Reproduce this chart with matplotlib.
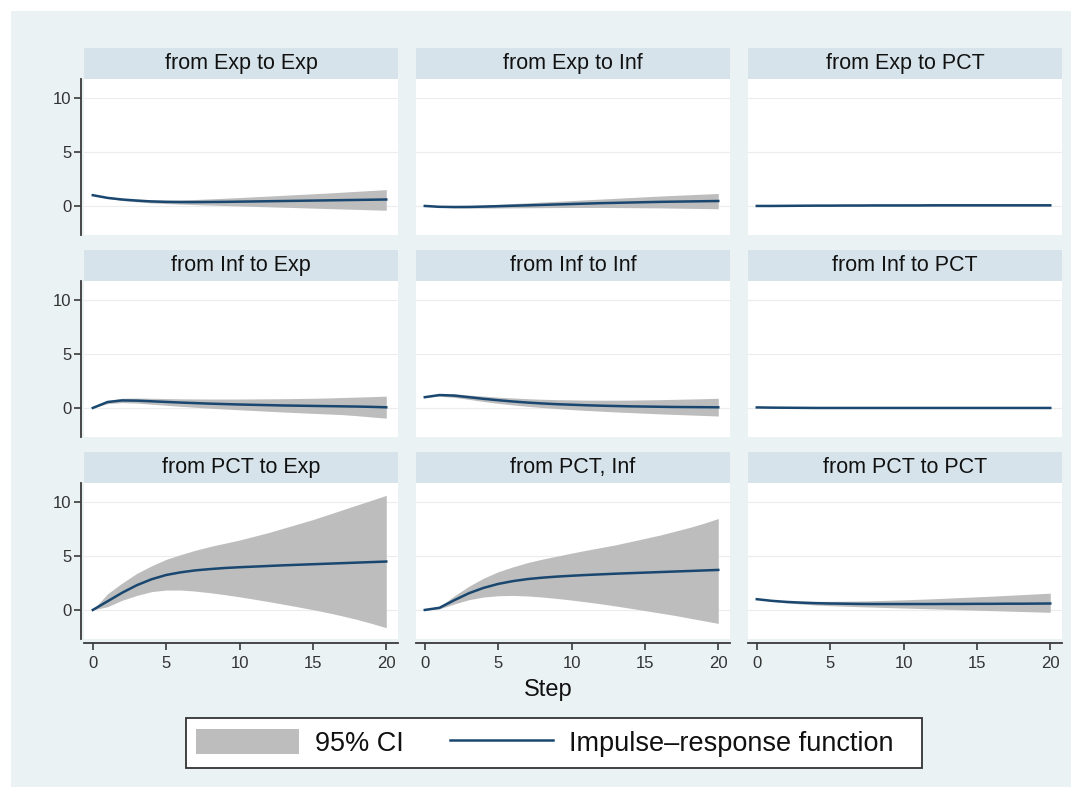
import numpy as np
import matplotlib.pyplot as plt
from matplotlib.patches import Rectangle, Patch
from matplotlib.lines import Line2D

###
# Data
###

steps = np.arange(21)

exp_exp_irf = [1.0, 0.75, 0.6, 0.5, 0.42, 0.38, 0.36, 0.36, 0.37, 0.38, 0.40, 0.42, 0.44, 0.46, 0.48, 0.50, 0.52, 0.54, 0.56, 0.58, 0.60]
exp_exp_lo = [1.0, 0.7, 0.5, 0.38, 0.28, 0.22, 0.17, 0.12, 0.08, 0.04, 0.0, -0.04, -0.08, -0.12, -0.16, -0.2, -0.24, -0.28, -0.32, -0.36, -0.4]
exp_exp_hi = [1.0, 0.8, 0.7, 0.62, 0.56, 0.54, 0.56, 0.6, 0.66, 0.72, 0.78, 0.85, 0.92, 0.99, 1.06, 1.13, 1.2, 1.28, 1.36, 1.44, 1.52]

exp_inf_irf = [0, -0.08, -0.1, -0.09, -0.06, -0.02, 0.02, 0.06, 0.1, 0.14, 0.18, 0.22, 0.26, 0.29, 0.32, 0.35, 0.38, 0.4, 0.42, 0.44, 0.46]
exp_inf_lo = [0, -0.12, -0.18, -0.2, -0.2, -0.19, -0.18, -0.17, -0.16, -0.15, -0.14, -0.14, -0.14, -0.15, -0.16, -0.17, -0.18, -0.2, -0.22, -0.24, -0.26]
exp_inf_hi = [0, -0.04, -0.02, 0.02, 0.08, 0.15, 0.22, 0.29, 0.36, 0.43, 0.5, 0.57, 0.64, 0.71, 0.78, 0.85, 0.92, 0.98, 1.04, 1.1, 1.16]

exp_pct_irf = [0, 0.0, 0.01, 0.02, 0.03, 0.03, 0.04, 0.04, 0.05, 0.05, 0.05, 0.05, 0.06, 0.06, 0.06, 0.06, 0.06, 0.06, 0.06, 0.06, 0.06]
exp_pct_lo = [0, -0.02, -0.03, -0.03, -0.03, -0.03, -0.03, -0.03, -0.03, -0.03, -0.03, -0.03, -0.03, -0.03, -0.03, -0.03, -0.03, -0.03, -0.03, -0.03, -0.03]
exp_pct_hi = [0, 0.02, 0.05, 0.07, 0.09, 0.1, 0.11, 0.12, 0.13, 0.13, 0.14, 0.14, 0.15, 0.15, 0.15, 0.15, 0.15, 0.15, 0.15, 0.15, 0.15]

inf_exp_irf = [0, 0.55, 0.7, 0.68, 0.62, 0.56, 0.5, 0.45, 0.4, 0.36, 0.32, 0.29, 0.26, 0.23, 0.21, 0.19, 0.17, 0.15, 0.13, 0.1, 0.06]
inf_exp_lo = [0, 0.4, 0.5, 0.45, 0.35, 0.25, 0.15, 0.06, -0.02, -0.1, -0.17, -0.24, -0.31, -0.38, -0.44, -0.5, -0.56, -0.62, -0.72, -0.84, -0.95]
inf_exp_hi = [0, 0.7, 0.9, 0.92, 0.9, 0.87, 0.85, 0.84, 0.83, 0.83, 0.83, 0.84, 0.85, 0.86, 0.88, 0.9, 0.93, 0.97, 1.01, 1.05, 1.1]

inf_inf_irf = [1.0, 1.2, 1.15, 1.0, 0.85, 0.72, 0.6, 0.5, 0.42, 0.35, 0.3, 0.25, 0.21, 0.18, 0.15, 0.13, 0.11, 0.09, 0.08, 0.07, 0.06]
inf_inf_lo = [1.0, 1.1, 0.98, 0.8, 0.6, 0.43, 0.28, 0.15, 0.04, -0.06, -0.15, -0.23, -0.3, -0.37, -0.43, -0.49, -0.55, -0.6, -0.65, -0.7, -0.75]
inf_inf_hi = [1.0, 1.3, 1.32, 1.2, 1.1, 1.0, 0.93, 0.86, 0.81, 0.77, 0.75, 0.73, 0.72, 0.72, 0.73, 0.75, 0.77, 0.8, 0.83, 0.86, 0.9]

inf_pct_irf = [0.05, 0.03, 0.02, 0.01, 0.0, 0.0, 0.0, 0.0, 0.0, 0.0, 0.0, 0.0, 0.0, 0.0, 0.0, 0.0, 0.0, 0.0, 0.0, 0.0, 0.0]
inf_pct_lo = [0.05, 0.0, -0.02, -0.03, -0.04, -0.04, -0.04, -0.04, -0.04, -0.04, -0.04, -0.04, -0.04, -0.04, -0.04, -0.04, -0.04, -0.04, -0.04, -0.04, -0.04]
inf_pct_hi = [0.05, 0.06, 0.06, 0.05, 0.04, 0.04, 0.04, 0.04, 0.04, 0.04, 0.04, 0.04, 0.04, 0.04, 0.04, 0.04, 0.04, 0.04, 0.04, 0.04, 0.04]

pct_exp_irf = [0, 0.8, 1.6, 2.3, 2.85, 3.25, 3.5, 3.68, 3.8, 3.9, 3.97, 4.03, 4.09, 4.15, 4.2, 4.25, 4.3, 4.35, 4.4, 4.45, 4.5]
pct_exp_lo = [0, 0.3, 0.9, 1.35, 1.7, 1.85, 1.85, 1.75, 1.6, 1.42, 1.22, 1.0, 0.77, 0.53, 0.28, 0.03, -0.25, -0.55, -0.88, -1.25, -1.65]
pct_exp_hi = [0, 1.5, 2.5, 3.4, 4.1, 4.7, 5.15, 5.55, 5.9, 6.2, 6.5, 6.85, 7.2, 7.6, 8.0, 8.4, 8.85, 9.3, 9.75, 10.2, 10.65]

pct_inf_irf = [0, 0.2, 0.9, 1.55, 2.05, 2.42, 2.68, 2.87, 3.0, 3.1, 3.18, 3.25, 3.31, 3.37, 3.42, 3.47, 3.52, 3.57, 3.62, 3.67, 3.72]
pct_inf_lo = [0, 0.1, 0.55, 0.95, 1.2, 1.32, 1.35, 1.3, 1.2, 1.07, 0.92, 0.75, 0.57, 0.37, 0.16, -0.06, -0.28, -0.5, -0.75, -1.0, -1.25]
pct_inf_hi = [0, 0.3, 1.3, 2.2, 2.95, 3.55, 4.0, 4.4, 4.72, 5.0, 5.28, 5.55, 5.8, 6.05, 6.35, 6.65, 6.95, 7.3, 7.65, 8.05, 8.5]

pct_pct_irf = [1.0, 0.85, 0.75, 0.68, 0.63, 0.6, 0.58, 0.56, 0.55, 0.55, 0.55, 0.55, 0.55, 0.56, 0.56, 0.57, 0.57, 0.58, 0.58, 0.59, 0.6]
pct_pct_lo = [1.0, 0.8, 0.65, 0.55, 0.46, 0.4, 0.35, 0.3, 0.26, 0.22, 0.18, 0.14, 0.1, 0.06, 0.02, -0.02, -0.06, -0.1, -0.14, -0.18, -0.22]
pct_pct_hi = [1.0, 0.9, 0.85, 0.82, 0.8, 0.8, 0.81, 0.83, 0.86, 0.9, 0.94, 0.99, 1.04, 1.1, 1.16, 1.22, 1.28, 1.35, 1.42, 1.49, 1.56]

titles = [
    "from Exp to Exp", "from Exp to Inf", "from Exp to PCT",
    "from Inf to Exp", "from Inf to Inf", "from Inf to PCT",
    "from PCT to Exp", "from PCT, Inf", "from PCT to PCT",
]
panels = [
    (exp_exp_irf, exp_exp_lo, exp_exp_hi), (exp_inf_irf, exp_inf_lo, exp_inf_hi), (exp_pct_irf, exp_pct_lo, exp_pct_hi),
    (inf_exp_irf, inf_exp_lo, inf_exp_hi), (inf_inf_irf, inf_inf_lo, inf_inf_hi), (inf_pct_irf, inf_pct_lo, inf_pct_hi),
    (pct_exp_irf, pct_exp_lo, pct_exp_hi), (pct_inf_irf, pct_inf_lo, pct_inf_hi), (pct_pct_irf, pct_pct_lo, pct_pct_hi),
]
y_ticks = [0, 5, 10]
x_ticks = [0, 5, 10, 15, 20]

###
# Style
###

plt.rcParams['font.family'] = ['Liberation Sans', 'DejaVu Sans']

W, H = 1084, 798
bg_color = "#eaf2f3"
strip_color = "#d6e3ea"
ci_color = "#bdbdbd"
line_color = "#1a476f"
axis_color = "#3a3a3a"
text_color = "#111111"

def fig_rect(x0, y0, x1, y1):
    # pixel box (top-left origin) -> figure fraction rect
    return [x0 / W, 1 - y1 / H, (x1 - x0) / W, (y1 - y0) / H]

fig = plt.figure(figsize=(W / 100, H / 100), dpi=100, facecolor="white")

# light blue-grey graph region behind everything
bg = fig.add_axes(fig_rect(11, 11, 1071, 787), zorder=-10)
bg.set_facecolor(bg_color)
bg.set_xticks([])
bg.set_yticks([])
for s in bg.spines.values():
    s.set_visible(False)

col_x = [84, 416, 748]
col_w = 314
row_y = [48, 250, 452]
strip_h = 31
plot_h = 156

###
# Panels
###

for k, (title, (irf, lo, hi)) in enumerate(zip(titles, panels)):
    r, c = divmod(k, 3)
    x0 = col_x[c]
    y0 = row_y[r]

    sax = fig.add_axes(fig_rect(x0, y0, x0 + col_w, y0 + strip_h))
    sax.set_facecolor(strip_color)
    sax.set_xticks([])
    sax.set_yticks([])
    for s in sax.spines.values():
        s.set_visible(False)
    sax.text(0.5, 0.5, title, ha="center", va="center", fontsize=15.5, color=text_color,
             transform=sax.transAxes)

    ax = fig.add_axes(fig_rect(x0, y0 + strip_h, x0 + col_w, y0 + strip_h + plot_h))
    ax.set_facecolor("white")
    ax.set_xlim(-0.6, 20.8)
    ax.set_ylim(-2.7, 11.8)
    for yv in y_ticks:
        ax.axhline(yv, color="#ececec", lw=0.8, zorder=0)

    ax.fill_between(steps, lo, hi, color=ci_color, lw=0, zorder=1)
    ax.plot(steps, irf, color=line_color, lw=1.8, zorder=2)

    for s in ax.spines.values():
        s.set_visible(False)

    if c == 0:
        ax.spines["left"].set_visible(True)
        ax.spines["left"].set_position(("outward", 2))
        ax.spines["left"].set_color(axis_color)
        ax.spines["left"].set_linewidth(1.3)
        ax.set_yticks(y_ticks)
        ax.tick_params(axis="y", length=5, width=1.2, color=axis_color,
                       labelsize=12, labelcolor="#333333", pad=2)
    else:
        ax.set_yticks([])

    if r == 2:
        ax.spines["bottom"].set_visible(True)
        ax.spines["bottom"].set_position(("outward", 3))
        ax.spines["bottom"].set_color(axis_color)
        ax.spines["bottom"].set_linewidth(1.3)
        ax.set_xticks(x_ticks)
        ax.tick_params(axis="x", length=5, width=1.2, color=axis_color,
                       labelsize=12, labelcolor="#333333", pad=4)
    else:
        ax.set_xticks([])

###
# Axis title and legend
###

fig.text(548 / W, 1 - 690 / H, "Step", ha="center", va="center", fontsize=17, color=text_color)

# legend frame drawn separately so the padding matches the reference
fig.patches.append(Rectangle((186 / W, 1 - 768 / H), 736 / W, 50 / H,
                             transform=fig.transFigure, facecolor="white",
                             edgecolor="#333333", linewidth=1.3, zorder=1))

handles = [
    Patch(facecolor=ci_color, edgecolor="none"),
    Line2D([0], [0], color=line_color, lw=1.8),
]
leg = fig.legend(handles, ["95% CI", "Impulse–response function"],
                 loc="center left", bbox_to_anchor=(196 / W, 1 - 743 / H),
                 ncol=2, fontsize=19.5, frameon=False,
                 handlelength=3.8, handleheight=1.0, handletextpad=0.6,
                 columnspacing=1.7, borderpad=0, borderaxespad=0,
                 labelcolor=text_color)

fig.savefig("out.png", dpi=100, facecolor=fig.get_facecolor())
